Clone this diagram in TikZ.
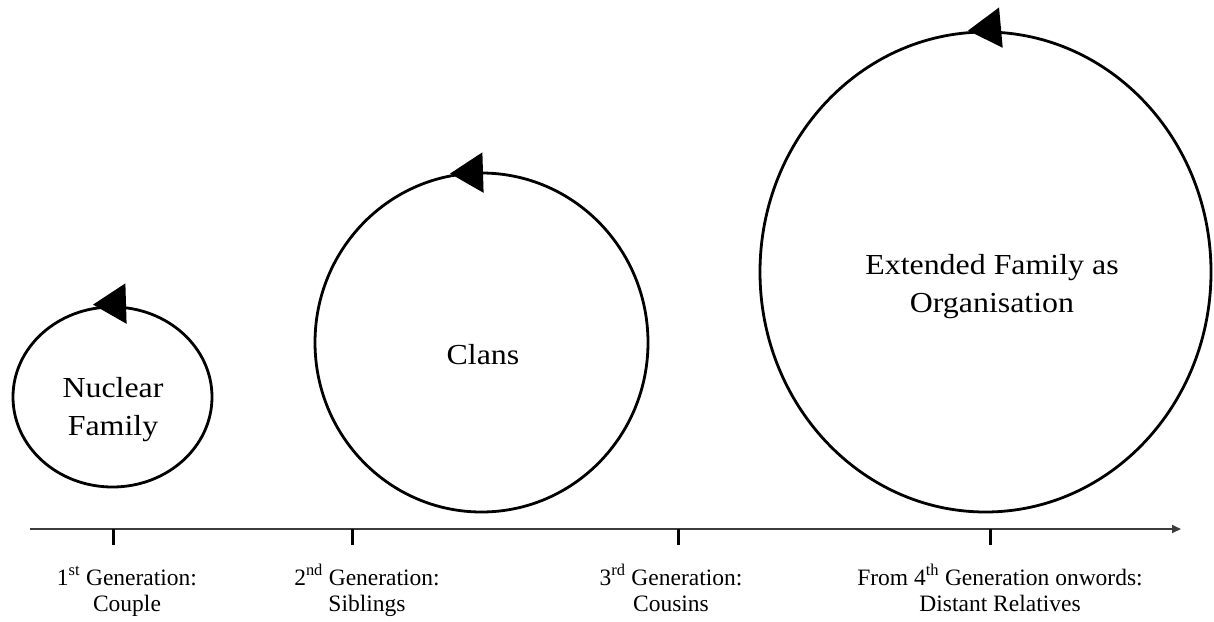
\documentclass[tikz,border=0pt]{standalone}
\usepackage{fontspec}
\setmainfont{Liberation Serif}
\newfontfamily\ringfont[FakeStretch=1.1]{Liberation Serif}
\usetikzlibrary{shapes.geometric,arrows.meta,calc}
\definecolor{axisgray}{HTML}{3C3C3C}

\begin{document}
\begin{tikzpicture}[x=1pt,y=-1pt,
  ring/.style={ellipse, draw=black, line width=2.8pt, inner sep=0pt},
  ringlabel/.style={align=center, inner sep=0pt, anchor=base,
    font=\ringfont\fontsize{29}{38}\selectfont},
  genlabel/.style={align=center, inner sep=0pt, anchor=base,
    font=\fontsize{23.5}{26}\selectfont},
  tickmark/.style={line width=3pt, black},
  timeline/.style={line width=1.8pt, draw=axisgray, -{Triangle[length=9pt,width=8pt]}},
  turn/.style={line width=2pt, -{Triangle[length=33pt,width=40pt]}}
]
\useasboundingbox (0,0) rectangle (1214,621);
\fill[white] (0,0) rectangle (1214,621);

% the three growing rings
\node[ring, minimum width=199pt, minimum height=180pt] (nuclear) at (112.5,397) {};
\node[ring, minimum width=333pt, minimum height=339pt] (clans) at (481.5,342.5) {};
\node[ring, minimum width=451pt, minimum height=480pt] (extended) at (985.5,272) {};

% counter-clockwise turn markers on top of each ring
\draw[turn] ($(nuclear.north)+(13.5,-2)$) -- ($(nuclear.north)+(-19.5,-1)$);
\draw[turn] ($(clans.north)+(1.5,1)$) -- ($(clans.north)+(-31.5,2)$);
\draw[turn] ($(extended.north)+(15.5,-3)$) -- ($(extended.north)+(-17.5,0)$);

% ring captions (base anchor sits on the last line)
\node[ringlabel] (nuclearText) at (113,435) {Nuclear\\Family};
\node[ringlabel] (clansText) at (483,364) {Clans};
\node[ringlabel] (extendedText) at (992,312.5) {Extended Family as\\Organisation};

% generation time line
\coordinate (axStart) at (30,529);
\coordinate (axEnd) at (1181,529);
\draw[timeline] (axStart) -- (axEnd);

\coordinate (tick1) at (113,529);
\coordinate (tick2) at (352,529);
\coordinate (tick3) at (678,529);
\coordinate (tick4) at (990,529);
\foreach \t in {tick1,tick2,tick3,tick4}
  \draw[tickmark] (\t) -- ++(0,16);

\node[genlabel] (gen1) at (127,611) {1\textsuperscript{st} Generation:\\Couple};
\node[genlabel] (gen2) at (367,611) {2\textsuperscript{nd} Generation:\\Siblings};
\node[genlabel] (gen3) at (671,611) {3\textsuperscript{rd} Generation:\\Cousins};
\node[genlabel] (gen4) at (1000,611) {From 4\textsuperscript{th} Generation onwords:\\Distant Relatives};
\end{tikzpicture}
\end{document}
